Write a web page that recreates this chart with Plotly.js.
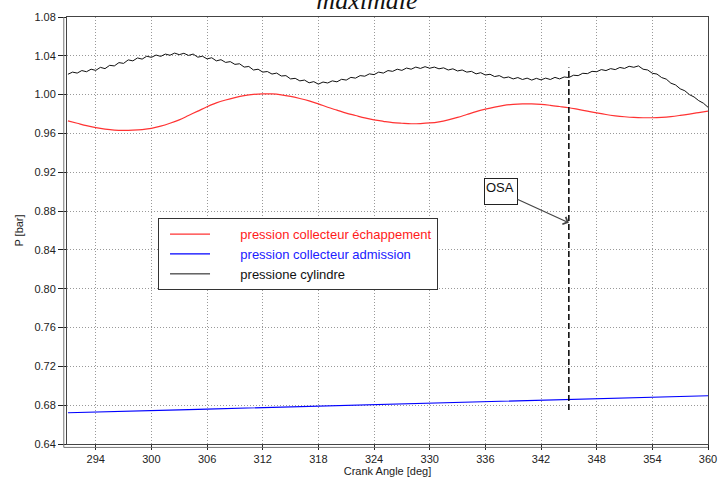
<!DOCTYPE html>
<html>
<head>
<meta charset="utf-8">
<script src="https://cdn.plot.ly/plotly-3.0.1.min.js"></script>
<style>html,body{margin:0;padding:0;background:#fff;}#chart{width:728px;height:477px;}</style>
</head>
<body>
<div id="chart"></div>
<script>
// Crank angle axis ticks
const xTicks = [294, 300, 306, 312, 318, 324, 330, 336, 342, 348, 354, 360];
const yTicks = [0.64, 0.68, 0.72, 0.76, 0.80, 0.84, 0.88, 0.92, 0.96, 1.00, 1.04, 1.08];

// Series names
const seriesNames = ["pression collecteur échappement", "pression collecteur admission", "pressione cylindre"];

// Exhaust manifold pressure, one value per degree from 291 to 360
const exhaustStart = 291, exhaustStep = 1;
const exhaustP = [
  0.9730, 0.9705, 0.9680, 0.9660, 0.9645, 0.9635, 0.9632, 0.9634, 0.9640, 0.9652,
  0.9675, 0.9705, 0.9740, 0.9785, 0.9830, 0.9875, 0.9915, 0.9945, 0.9970, 0.9990,
  1.0003, 1.0008, 1.0007, 0.9998, 0.9982, 0.9960, 0.9935, 0.9905, 0.9870, 0.9840,
  0.9810, 0.9785, 0.9760, 0.9740, 0.9725, 0.9712, 0.9705, 0.9700, 0.9702, 0.9708,
  0.9720, 0.9740, 0.9765, 0.9795, 0.9825, 0.9850, 0.9872, 0.9890, 0.9900, 0.9905,
  0.9905, 0.9900, 0.9890, 0.9878, 0.9865, 0.9848, 0.9830, 0.9812, 0.9795, 0.9782,
  0.9772, 0.9765, 0.9762, 0.9762, 0.9766, 0.9774, 0.9786, 0.9800, 0.9815, 0.9830
];

// Intake manifold pressure, every 3 degrees from 291 to 360
const intakeStart = 291, intakeStep = 3;
const intakeP = [
  0.6722, 0.6728, 0.6738, 0.6745, 0.6752, 0.6760, 0.6768, 0.6775, 0.6785, 0.6792,
  0.6800, 0.6808, 0.6815, 0.6822, 0.6830, 0.6838, 0.6845, 0.6852, 0.6862, 0.6868,
  0.6875, 0.6882, 0.6890, 0.6897
];

// Cylinder pressure, every 0.5 degree from 291 to 360
const cylStart = 291, cylStep = 0.5;
const cylinderP = [
  1.0210, 1.0232, 1.0222, 1.0248, 1.0236, 1.0262, 1.0250, 1.0281, 1.0268, 1.0302,
  1.0296, 1.0330, 1.0322, 1.0358, 1.0348, 1.0378, 1.0366, 1.0396, 1.0384, 1.0408,
  1.0394, 1.0418, 1.0406, 1.0428, 1.0412, 1.0426, 1.0404, 1.0418, 1.0386, 1.0396,
  1.0368, 1.0380, 1.0348, 1.0360, 1.0332, 1.0340, 1.0312, 1.0318, 1.0284, 1.0290,
  1.0254, 1.0262, 1.0232, 1.0238, 1.0212, 1.0222, 1.0192, 1.0196, 1.0162, 1.0168,
  1.0142, 1.0150, 1.0122, 1.0134, 1.0108, 1.0130, 1.0120, 1.0142, 1.0132, 1.0158,
  1.0150, 1.0178, 1.0170, 1.0196, 1.0190, 1.0214, 1.0206, 1.0232, 1.0222, 1.0248,
  1.0240, 1.0262, 1.0250, 1.0274, 1.0262, 1.0284, 1.0270, 1.0288, 1.0272, 1.0284,
  1.0266, 1.0276, 1.0254, 1.0266, 1.0244, 1.0254, 1.0232, 1.0240, 1.0214, 1.0226,
  1.0202, 1.0210, 1.0186, 1.0196, 1.0172, 1.0182, 1.0162, 1.0176, 1.0156, 1.0170,
  1.0150, 1.0168, 1.0152, 1.0170, 1.0156, 1.0178, 1.0162, 1.0182, 1.0176, 1.0200,
  1.0196, 1.0220, 1.0216, 1.0240, 1.0236, 1.0258, 1.0248, 1.0268, 1.0258, 1.0280,
  1.0270, 1.0292, 1.0282, 1.0296, 1.0262, 1.0254, 1.0220, 1.0212, 1.0176, 1.0160,
  1.0118, 1.0100, 1.0060, 1.0040, 1.0000, 0.9976, 0.9938, 0.9912, 0.9870
];

// OSA marker
const osaAngle = 345;
const osaSpan = [0.675, 1.028];
const osaArrowP = 0.868;
const osaLabel = "OSA";

const pad = "\u00a0\u00a0\u00a0\u00a0\u00a0\u00a0\u00a0";

const traces = [
  {
    type: "scatter", mode: "lines",
    x0: exhaustStart, dx: exhaustStep, y: exhaustP,
    line: {color: "#ff3333", width: 1.2, shape: "spline"},
    name: pad + '<span style="color:#ff1a1a">' + seriesNames[0] + '</span>'
  },
  {
    type: "scatter", mode: "lines",
    x0: intakeStart, dx: intakeStep, y: intakeP,
    line: {color: "#0000ff", width: 1.2},
    name: pad + '<span style="color:#2020ff">' + seriesNames[1] + '</span>'
  },
  {
    type: "scatter", mode: "lines",
    x0: cylStart, dx: cylStep, y: cylinderP,
    line: {color: "#111111", width: 1},
    name: pad + '<span style="color:#111">' + seriesNames[2] + '</span>'
  }
];

const tickFont = {family: "Liberation Sans, Arial, sans-serif", size: 11, color: "#222"};
const gridDash = "1px,2px";

const layout = {
  width: 728, height: 477,
  margin: {l: 67, r: 20, t: 17, b: 33},
  paper_bgcolor: "#ffffff",
  plot_bgcolor: "#ffffff",
  title: {
    text: "maximale",
    font: {family: "Liberation Serif, Times New Roman, serif", size: 26, style: "italic", color: "#111"},
    xref: "container", x: 0.504, xanchor: "center",
    yref: "container", y: 1, yanchor: "middle"
  },
  xaxis: {
    range: [290.9, 360],
    tickvals: xTicks,
    ticktext: xTicks.map(String),
    ticks: "outside", ticklen: 5, tickcolor: "#222",
    tickfont: tickFont,
    showgrid: true, gridcolor: "#999", griddash: gridDash, gridwidth: 1,
    showline: true, linecolor: "#444", linewidth: 1, mirror: true,
    zeroline: false,
    title: {text: "Crank Angle [deg]", font: {family: "Liberation Sans, Arial, sans-serif", size: 11, color: "#222"}, standoff: 2}
  },
  yaxis: {
    range: [0.64, 1.08],
    tickvals: yTicks,
    ticktext: yTicks.map(v => v.toFixed(2)),
    ticks: "outside", ticklen: 8, tickcolor: "#222",
    tickfont: tickFont,
    showgrid: true, gridcolor: "#999", griddash: gridDash, gridwidth: 1,
    showline: true, linecolor: "#444", linewidth: 1, mirror: true,
    zeroline: false,
    title: {text: "P [bar]", font: {family: "Liberation Sans, Arial, sans-serif", size: 11, color: "#222"}, standoff: 8}
  },
  showlegend: true,
  legend: {
    x: 0.142, y: 0.529, xanchor: "left", yanchor: "top",
    bgcolor: "#ffffff", bordercolor: "#333", borderwidth: 1,
    font: {family: "Liberation Sans, Arial, sans-serif", size: 13},
    itemwidth: 40,
    indentation: 6,
    traceorder: "normal"
  },
  shapes: [
    {type: "line", xref: "x", yref: "y", x0: osaAngle, x1: osaAngle, y0: osaSpan[0], y1: osaSpan[1],
     line: {color: "#000", width: 1.5, dash: "6px,3px"}},
    {type: "line", xref: "paper", yref: "paper", x0: -0.005, x1: -0.005, y0: -0.008, y1: 1,
     line: {color: "#777", width: 1}},
    {type: "line", xref: "paper", yref: "paper", x0: -0.005, x1: 1, y0: -0.008, y1: -0.008,
     line: {color: "#777", width: 1}}
  ],
  annotations: [
    {
      x: osaAngle, y: osaArrowP, xref: "x", yref: "y",
      text: osaLabel, showarrow: true,
      ax: -68, ay: -31,
      arrowhead: 4, arrowsize: 1.3, arrowwidth: 1.2, arrowcolor: "#444",
      font: {family: "Liberation Sans, Arial, sans-serif", size: 13, color: "#111"},
      align: "left", valign: "top", width: 30, height: 23,
      bgcolor: "#ffffff", bordercolor: "#222", borderwidth: 1, borderpad: 1
    }
  ]
};

Plotly.newPlot("chart", traces, layout, {displayModeBar: false, staticPlot: true});
</script>
</body>
</html>
